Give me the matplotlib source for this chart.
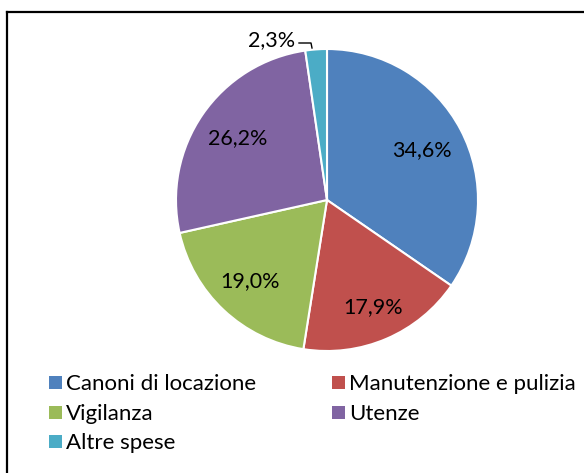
import matplotlib
matplotlib.use("Agg")
import matplotlib.pyplot as plt
import numpy as np
from matplotlib.lines import Line2D
from matplotlib.patches import Rectangle

plt.rcParams['font.family'] = ['Lato', 'DejaVu Sans']

categories = ["Canoni di locazione", "Manutenzione e pulizia", "Vigilanza", "Utenze", "Altre spese"]
values = [34.6, 17.9, 19.0, 26.2, 2.3]
labels = ["34,6%", "17,9%", "19,0%", "26,2%", "2,3%"]
colors = ["#4F81BD", "#C0504D", "#9BBB59", "#8064A2", "#4BACC6"]
label_dist = [0.71, 0.77, 0.74, 0.72, None]

W, H = 584, 473
fig = plt.figure(figsize=(W / 100, H / 100), dpi=100)

# frame (top and left visible)
fig.add_artist(Line2D([7 / W, 7 / W], [0, 1 - 12.5 / H], transform=fig.transFigure, color='black', lw=1.6))
fig.add_artist(Line2D([7 / W, 1], [1 - 12.5 / H, 1 - 12.5 / H], transform=fig.transFigure, color='black', lw=1.6))

cx, cy, r = 327, 200, 151
ax = fig.add_axes([(cx - r) / W, (H - cy - r) / H, 2 * r / W, 2 * r / H])
wedges, _ = ax.pie(values, colors=colors, startangle=90, counterclock=False,
                   wedgeprops=dict(edgecolor='white', linewidth=1.5))
ax.set_xlim(-1, 1)
ax.set_ylim(-1, 1)
ax.set_aspect('equal')
ax.axis('off')

LFS = 15.5
for w, lab, d in zip(wedges, labels, label_dist):
    ang = np.deg2rad((w.theta1 + w.theta2) / 2)
    if d is not None:
        ax.text(d * np.cos(ang), d * np.sin(ang), lab, ha='center', va='center', fontsize=LFS, color='black')
    else:
        tx, ty = (272 - cx) / r, (cy - 40) / r
        ax.text(tx, ty, lab, ha='center', va='center', fontsize=LFS, color='black', clip_on=False)
        ax.plot([(299 - cx) / r, (311 - cx) / r, (312 - cx) / r],
                [(cy - 43) / r, (cy - 43) / r, (cy - 48) / r],
                color='black', lw=1, clip_on=False)

# legend, row-major in two columns
col_x = [49, 332]
row_y = [382, 412, 441]
sq = 13
for i, (name, c) in enumerate(zip(categories, colors)):
    row, col = divmod(i, 2)
    x0, yc = col_x[col], row_y[row]
    fig.add_artist(Rectangle((x0 / W, (H - yc - sq / 2) / H), sq / W, sq / H,
                             transform=fig.transFigure, facecolor=c, edgecolor='none'))
    fig.text((x0 + sq + 4) / W, (H - yc) / H, name, ha='left', va='center_baseline',
             fontsize=16.0, color='black')

fig.savefig("out.png", dpi=100)
